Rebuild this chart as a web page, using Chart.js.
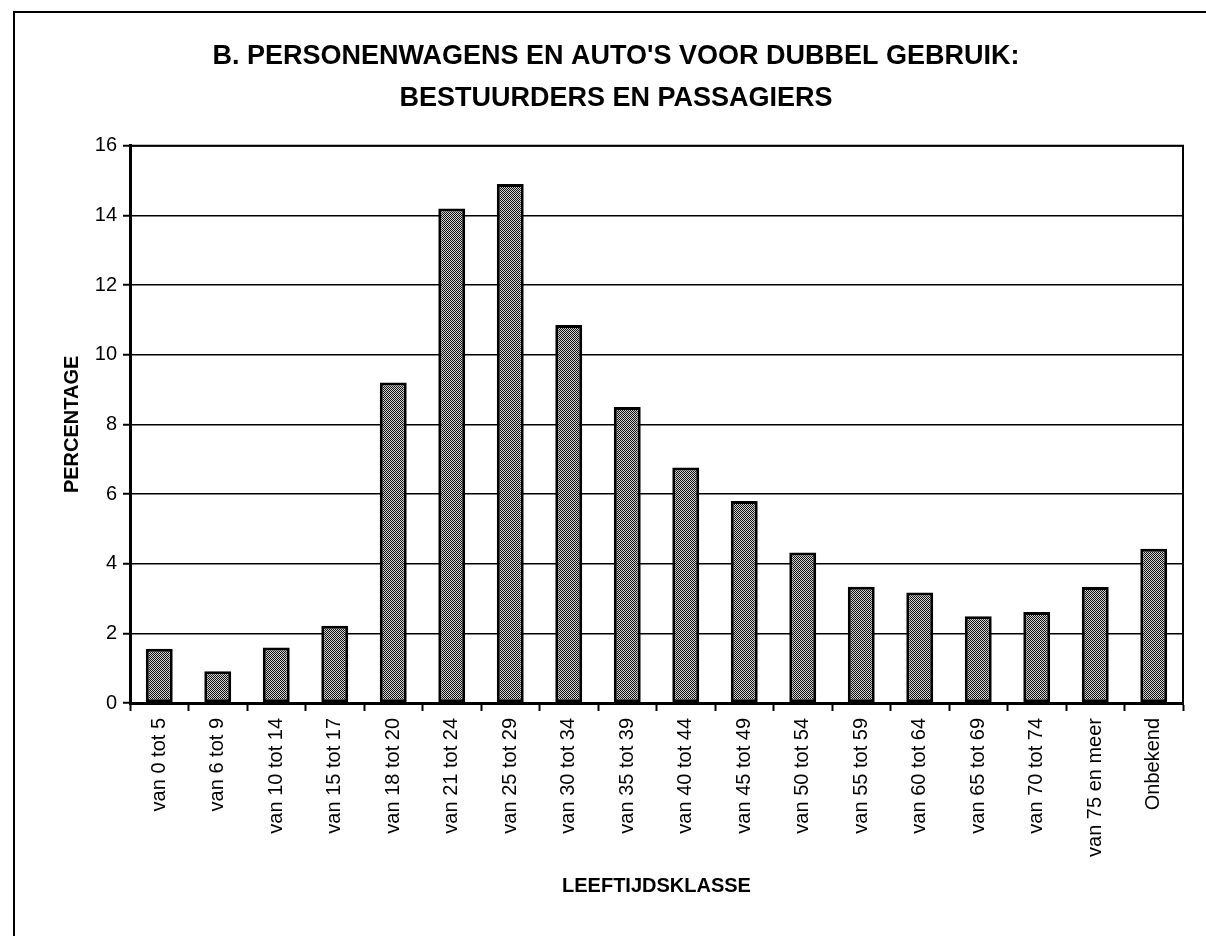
<!DOCTYPE html>
<html>
<head>
<meta charset="utf-8">
<title>Personenwagens - leeftijdsklasse</title>
<script src="https://cdn.jsdelivr.net/npm/chart.js@4"></script>
<style>
  html, body { margin: 0; padding: 0; background: #ffffff; }
  #chart { display: block; }
</style>
</head>
<body>
<canvas id="chart" width="1206" height="936"></canvas>
<script>
// Data
const categories = [
  "van 0 tot 5", "van 6 tot 9", "van 10 tot 14", "van 15 tot 17",
  "van 18 tot 20", "van 21 tot 24", "van 25 tot 29", "van 30 tot 34",
  "van 35 tot 39", "van 40 tot 44", "van 45 tot 49", "van 50 tot 54",
  "van 55 tot 59", "van 60 tot 64", "van 65 tot 69", "van 70 tot 74",
  "van 75 en meer", "Onbekend"
];
const percentages = [
  1.56, 0.91, 1.59, 2.22, 9.2, 14.2, 14.9, 10.85, 8.5,
  6.76, 5.8, 4.32, 3.34, 3.17, 2.49, 2.61, 3.33, 4.43
];
const yTicks = [0, 2, 4, 6, 8, 10, 12, 14, 16];
const titleLines = [
  "B. PERSONENWAGENS EN AUTO'S VOOR DUBBEL GEBRUIK:",
  "BESTUURDERS EN PASSAGIERS"
];
const xTitle = "LEEFTIJDSKLASSE";
const yTitle = "PERCENTAGE";

const FONT = "'Liberation Sans', Arial, Helvetica, sans-serif";

// dotted grey fill like the old printer pattern
function makePattern() {
  const c = document.createElement("canvas");
  c.width = 2;
  c.height = 2;
  const p = c.getContext("2d");
  p.fillStyle = "#d2d2d2";
  p.fillRect(0, 0, 2, 2);
  p.fillStyle = "#111111";
  p.fillRect(0, 0, 1, 1);
  p.fillRect(1, 1, 1, 1);
  return p.createPattern(c, "repeat");
}

// outer frame, and the top/right edges of the plot box
const framePlugin = {
  id: "frame",
  beforeDraw(chart) {
    const ctx = chart.ctx;
    ctx.save();
    ctx.fillStyle = "#ffffff";
    ctx.fillRect(0, 0, chart.width, chart.height);
    ctx.strokeStyle = "#000000";
    ctx.lineWidth = 2;
    ctx.strokeRect(14, 12, chart.width + 20, chart.height + 20);
    ctx.restore();
  },
  beforeDatasetsDraw(chart) {
    const { ctx, chartArea } = chart;
    ctx.save();
    ctx.strokeStyle = "#000000";
    ctx.lineWidth = 2;
    ctx.beginPath();
    ctx.moveTo(chartArea.left, chartArea.top);
    ctx.lineTo(chartArea.right, chartArea.top);
    ctx.lineTo(chartArea.right, chartArea.bottom);
    ctx.stroke();
    ctx.restore();
  }
};

const ctx = document.getElementById("chart").getContext("2d");
new Chart(ctx, {
  type: "bar",
  data: {
    labels: categories,
    datasets: [{
      data: percentages,
      backgroundColor: makePattern(),
      borderColor: "#000000",
      borderWidth: 3,
      borderSkipped: false,
      barPercentage: 0.46,
      categoryPercentage: 1
    }]
  },
  options: {
    responsive: false,
    devicePixelRatio: 1,
    animation: false,
    layout: {
      padding: { left: 49, right: 23, top: 16, bottom: 0 }
    },
    plugins: {
      legend: { display: false },
      tooltip: { enabled: false },
      title: {
        display: true,
        text: titleLines,
        color: "#000000",
        font: { family: FONT, size: 27, weight: "bold", lineHeight: 1.55 },
        padding: { top: 20, bottom: 26 }
      }
    },
    scales: {
      x: {
        grid: {
          drawOnChartArea: false,
          drawTicks: true,
          tickLength: 8,
          tickWidth: 2,
          tickColor: "#000000"
        },
        border: { display: true, color: "#000000", width: 3 },
        ticks: {
          color: "#000000",
          font: { family: FONT, size: 20 },
          minRotation: 90,
          maxRotation: 90,
          autoSkip: false,
          padding: 7
        },
        title: {
          display: true,
          text: xTitle,
          color: "#000000",
          font: { family: FONT, size: 20, weight: "bold" },
          padding: { top: 0, bottom: 38 }
        },
        afterFit(scale) {
          scale.height = 233;
        }
      },
      y: {
        min: 0,
        max: 16,
        afterBuildTicks(scale) {
          scale.ticks = yTicks.map(v => ({ value: v }));
        },
        grid: {
          color: "#000000",
          lineWidth: 1.5,
          drawTicks: true,
          tickLength: 7,
          tickWidth: 2,
          tickColor: "#000000"
        },
        border: { display: true, color: "#000000", width: 3 },
        ticks: {
          color: "#000000",
          font: { family: FONT, size: 20 },
          padding: 6
        },
        title: {
          display: true,
          text: yTitle,
          color: "#000000",
          font: { family: FONT, size: 20, weight: "bold" },
          padding: { top: 11, bottom: 0 }
        },
        afterFit(scale) {
          scale.width = 81;
        }
      }
    }
  },
  plugins: [framePlugin]
});
</script>
</body>
</html>
